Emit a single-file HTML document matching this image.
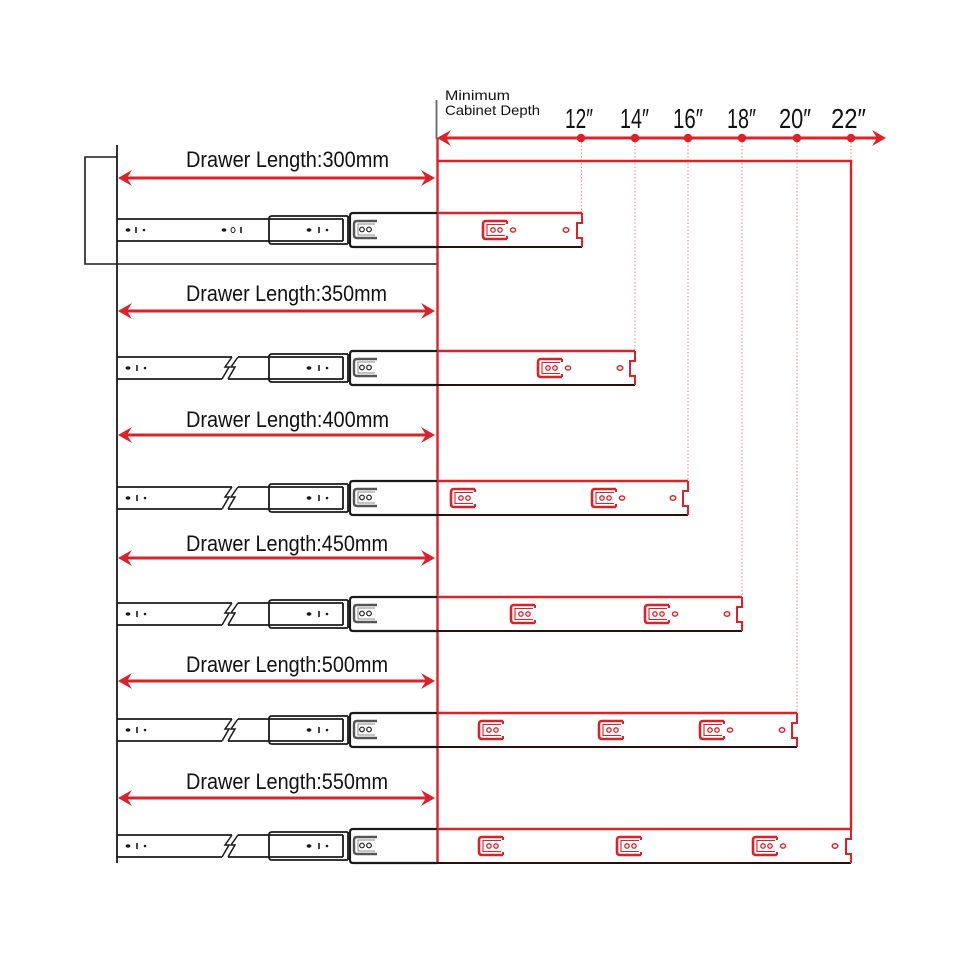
<!DOCTYPE html>
<html><head><meta charset="utf-8"><style>
html,body{margin:0;padding:0;background:#fff;}
svg{display:block;}
text{font-family:"Liberation Sans",sans-serif;}
</style></head><body>
<svg width="960" height="960" viewBox="0 0 960 960" xmlns="http://www.w3.org/2000/svg">
<defs>
  <g id="railB" fill="none" stroke="#1a1a1a" stroke-width="1.8">
    <path d="M117,6 H232 M238,6 H343 M117,28 H222 M228,28 H343"/>
    <path d="M232,6 L225,16 L229,16 L222,28 M238,6 L231,16 L235,16 L228,28" stroke-width="1.5"/>
    <path d="M348,3 H272 Q269,3 269,6 V28 Q269,31 272,31 H348 M343,6 V28 M348,3 V31"/>
    <path d="M437,0 H353 Q350,0 350,3 V31 Q350,34 353,34 H437" stroke-width="2.2"/>
    <g fill="#1a1a1a" stroke="none">
      <ellipse cx="128" cy="17" rx="2.4" ry="1.7"/><rect x="136.2" y="14" width="1.6" height="6"/><circle cx="145" cy="17" r="1.3"/>
      <ellipse cx="309" cy="17" rx="2.4" ry="1.7"/><rect x="318.2" y="14" width="1.6" height="6"/><circle cx="327" cy="17" r="1.3"/>
    </g>
    <path d="M377,8 H357 Q354,8 354,11 V22 Q354,25 357,25 H377" stroke="#555" stroke-width="2.4"/>
    <path d="M375,11 H358 V22 H375" stroke="#888" stroke-width="1"/>
    <circle cx="362" cy="16.5" r="2.3" stroke-width="1.2"/><circle cx="369" cy="16.5" r="2.3" stroke-width="1.2"/>
  </g>
  <g id="railA" fill="none" stroke="#1a1a1a" stroke-width="1.8">
    <path d="M117,6 H343 M117,28 H343"/>
    <path d="M348,3 H272 Q269,3 269,6 V28 Q269,31 272,31 H348 M343,6 V28 M348,3 V31"/>
    <path d="M437,0 H353 Q350,0 350,3 V31 Q350,34 353,34 H437" stroke-width="2.2"/>
    <g fill="#1a1a1a" stroke="none">
      <ellipse cx="128" cy="17" rx="2.4" ry="1.7"/><rect x="135.2" y="14" width="1.6" height="6"/><circle cx="144" cy="17" r="1.3"/>
      <ellipse cx="224" cy="17" rx="2.4" ry="1.7"/><ellipse cx="233" cy="17" rx="2" ry="2.6" fill="none" stroke="#1a1a1a" stroke-width="1"/><rect x="240.2" y="14" width="1.6" height="6"/>
      <ellipse cx="309" cy="17" rx="2.4" ry="1.7"/><rect x="318.2" y="14" width="1.6" height="6"/><circle cx="327" cy="17" r="1.3"/>
    </g>
    <path d="M377,8 H357 Q354,8 354,11 V22 Q354,25 357,25 H377" stroke="#555" stroke-width="2.4"/>
    <path d="M375,11 H358 V22 H375" stroke="#888" stroke-width="1"/>
    <circle cx="362" cy="16.5" r="2.3" stroke-width="1.2"/><circle cx="369" cy="16.5" r="2.3" stroke-width="1.2"/>
  </g>
  <g id="brk" fill="none" stroke="#d9222a">
    <path d="M24,8 H3 Q0,8 0,11 V23 Q0,26 3,26 H24" stroke-width="2.6"/>
    <path d="M24,8 V11 M24,26 V23" stroke-width="2"/>
    <path d="M22,11.5 H4 V22.5 H22" stroke-width="1.1"/>
    <circle cx="10" cy="17" r="2.2" stroke-width="1.3"/><circle cx="17" cy="17" r="2.2" stroke-width="1.3"/>
  </g>
  <g id="brk3">
    <use href="#brk"/>
    <ellipse cx="30" cy="17" rx="2.6" ry="2.1" fill="none" stroke="#d9222a" stroke-width="1.4"/>
  </g>
  <g id="hole"><ellipse cx="0" cy="17" rx="2.8" ry="2.2" fill="none" stroke="#d9222a" stroke-width="1.5"/></g>
  <g id="dim">
    <line x1="122" y1="0" x2="431" y2="0" stroke="#d9222a" stroke-width="3"/>
    <polygon points="118,0 132,-8 127,0 132,8" fill="#d9222a"/>
    <polygon points="435,0 421,-8 426,0 421,8" fill="#d9222a"/>
  </g>
</defs>

<path d="M117,157 H85 V264 H437" fill="none" stroke="#1a1a1a" stroke-width="1.6"/>
<line x1="117" y1="145" x2="117" y2="863" stroke="#1a1a1a" stroke-width="1.8"/>
<line x1="436.5" y1="100" x2="436.5" y2="139" stroke="#666" stroke-width="1.8"/>

<text x="445" y="100" font-size="14" fill="#111" textLength="65" lengthAdjust="spacingAndGlyphs">Minimum</text>
<text x="445" y="115" font-size="14" fill="#111" textLength="95" lengthAdjust="spacingAndGlyphs">Cabinet Depth</text>

<g font-size="28" fill="#111">
<text x="565" y="128" textLength="28" lengthAdjust="spacingAndGlyphs">12″</text>
<text x="620" y="128" textLength="29" lengthAdjust="spacingAndGlyphs">14″</text>
<text x="673" y="128" textLength="30" lengthAdjust="spacingAndGlyphs">16″</text>
<text x="727" y="128" textLength="29" lengthAdjust="spacingAndGlyphs">18″</text>
<text x="779" y="128" textLength="32" lengthAdjust="spacingAndGlyphs">20″</text>
<text x="831" y="128" textLength="35" lengthAdjust="spacingAndGlyphs">22″</text>
</g>

<g stroke="#e39a9e" stroke-width="1.2" stroke-dasharray="1.5,2">
<line x1="581.5" y1="142" x2="581.5" y2="213"/>
<line x1="635" y1="142" x2="635" y2="351"/>
<line x1="688" y1="142" x2="688" y2="481"/>
<line x1="742" y1="142" x2="742" y2="597"/>
<line x1="797" y1="142" x2="797" y2="713"/>
<line x1="851" y1="142" x2="851" y2="161"/>
</g>

<line x1="441" y1="138" x2="881" y2="138" stroke="#d9222a" stroke-width="3"/>
<polygon points="437,138 451,130 446,138 451,146" fill="#d9222a"/>
<polygon points="886,138 872,130 877,138 872,146" fill="#d9222a"/>
<g fill="#d9222a">
<circle cx="581" cy="138" r="4.3"/><circle cx="635" cy="138" r="4.3"/><circle cx="688" cy="138" r="4.3"/>
<circle cx="742" cy="138" r="4.3"/><circle cx="797" cy="138" r="4.3"/><circle cx="851" cy="138" r="4.3"/>
</g>

<path d="M437,161 H851 V829" fill="none" stroke="#d9222a" stroke-width="2.4"/>
<line x1="437.5" y1="138" x2="437.5" y2="864" stroke="#d9222a" stroke-width="2.4"/>

<g font-size="22" fill="#111">
<text x="186" y="167" textLength="203" lengthAdjust="spacingAndGlyphs">Drawer Length:300mm</text>
<text x="186" y="301" textLength="201" lengthAdjust="spacingAndGlyphs">Drawer Length:350mm</text>
<text x="186" y="427" textLength="203" lengthAdjust="spacingAndGlyphs">Drawer Length:400mm</text>
<text x="186" y="551" textLength="202" lengthAdjust="spacingAndGlyphs">Drawer Length:450mm</text>
<text x="186" y="672" textLength="202" lengthAdjust="spacingAndGlyphs">Drawer Length:500mm</text>
<text x="186" y="789" textLength="202" lengthAdjust="spacingAndGlyphs">Drawer Length:550mm</text>
</g>
<use href="#dim" transform="translate(0,178)"/>
<use href="#dim" transform="translate(0,311)"/>
<use href="#dim" transform="translate(0,435)"/>
<use href="#dim" transform="translate(0,558)"/>
<use href="#dim" transform="translate(0,681)"/>
<use href="#dim" transform="translate(0,798)"/>

<g transform="translate(0,213)">
  <use href="#railA"/>
  <path d="M437,0 H582" stroke="#d9222a" stroke-width="2.4" fill="none"/>
  <path d="M437,34 H582" stroke="#2a0e0e" stroke-width="2" fill="none"/>
  <path d="M582,0 V10 H577 V25 H582 V34" stroke="#d9222a" stroke-width="2" fill="none"/>
  <use href="#brk3" transform="translate(483,0)"/>
  <use href="#hole" transform="translate(566,0)"/>
</g>
<g transform="translate(0,351)">
  <use href="#railB"/>
  <path d="M437,0 H635" stroke="#d9222a" stroke-width="2.4" fill="none"/>
  <path d="M437,34 H635" stroke="#2a0e0e" stroke-width="2" fill="none"/>
  <path d="M635,0 V10 H630 V25 H635 V34" stroke="#d9222a" stroke-width="2" fill="none"/>
  <use href="#brk3" transform="translate(538,0)"/>
  <use href="#hole" transform="translate(620,0)"/>
</g>
<g transform="translate(0,481)">
  <use href="#railB"/>
  <path d="M437,0 H688" stroke="#d9222a" stroke-width="2.4" fill="none"/>
  <path d="M437,34 H688" stroke="#2a0e0e" stroke-width="2" fill="none"/>
  <path d="M688,0 V10 H683 V25 H688 V34" stroke="#d9222a" stroke-width="2" fill="none"/>
  <use href="#brk" transform="translate(451,0)"/>
  <use href="#brk3" transform="translate(592,0)"/>
  <use href="#hole" transform="translate(673,0)"/>
</g>
<g transform="translate(0,597)">
  <use href="#railB"/>
  <path d="M437,0 H742" stroke="#d9222a" stroke-width="2.4" fill="none"/>
  <path d="M437,34 H742" stroke="#2a0e0e" stroke-width="2" fill="none"/>
  <path d="M742,0 V10 H737 V25 H742 V34" stroke="#d9222a" stroke-width="2" fill="none"/>
  <use href="#brk" transform="translate(511,0)"/>
  <use href="#brk3" transform="translate(645,0)"/>
  <use href="#hole" transform="translate(727,0)"/>
</g>
<g transform="translate(0,713)">
  <use href="#railB"/>
  <path d="M437,0 H797" stroke="#d9222a" stroke-width="2.4" fill="none"/>
  <path d="M437,34 H797" stroke="#2a0e0e" stroke-width="2" fill="none"/>
  <path d="M797,0 V10 H792 V25 H797 V34" stroke="#d9222a" stroke-width="2" fill="none"/>
  <use href="#brk" transform="translate(479,0)"/>
  <use href="#brk" transform="translate(599,0)"/>
  <use href="#brk3" transform="translate(700,0)"/>
  <use href="#hole" transform="translate(782,0)"/>
</g>
<g transform="translate(0,829)">
  <use href="#railB"/>
  <path d="M437,0 H851" stroke="#d9222a" stroke-width="2.4" fill="none"/>
  <path d="M437,34 H851" stroke="#2a0e0e" stroke-width="2" fill="none"/>
  <path d="M851,0 V10 H846 V25 H851 V34" stroke="#d9222a" stroke-width="2" fill="none"/>
  <use href="#brk" transform="translate(479,0)"/>
  <use href="#brk" transform="translate(617,0)"/>
  <use href="#brk3" transform="translate(753,0)"/>
  <use href="#hole" transform="translate(835,0)"/>
</g>
</svg>
</body></html>
